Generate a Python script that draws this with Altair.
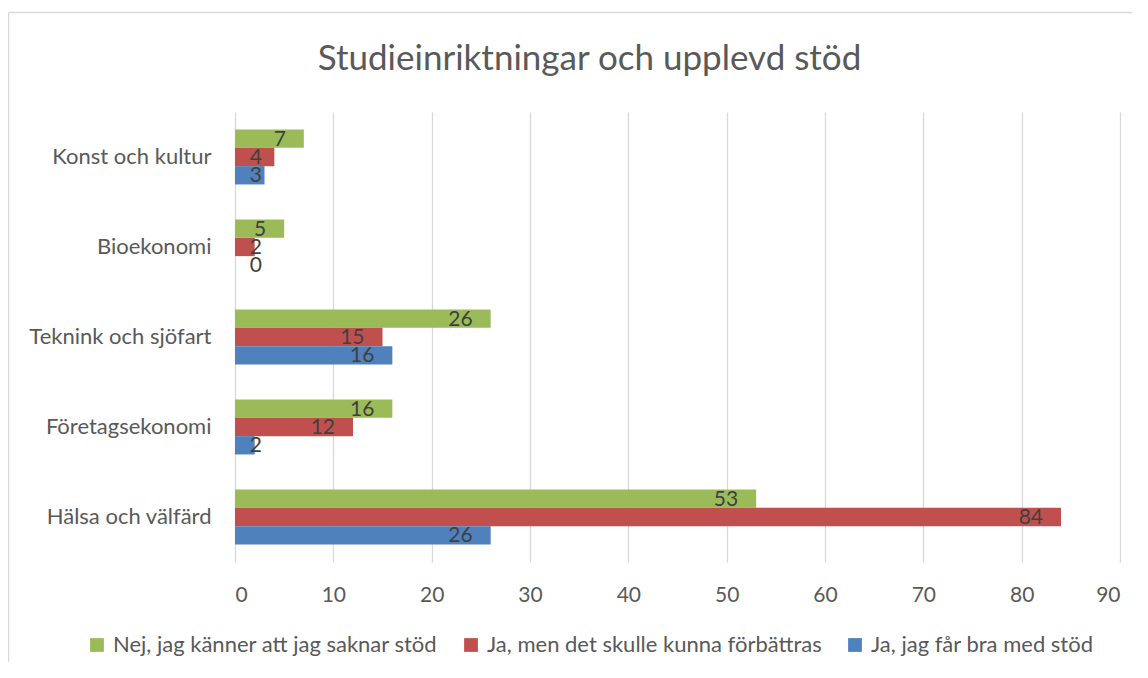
import altair as alt
import pandas as pd

categories = ["Konst och kultur", "Bioekonomi", "Teknink och sjöfart", "Företagsekonomi", "Hälsa och välfärd"]
series = ["Nej, jag känner att jag saknar stöd", "Ja, men det skulle kunna förbättras", "Ja, jag får bra med stöd"]
nej = [7, 5, 26, 16, 53]
ja_men = [4, 2, 15, 12, 84]
ja_bra = [3, 0, 16, 2, 26]
colors = ["#9BBB59", "#C0504D", "#4F81BD"]
x_ticks = [0, 10, 20, 30, 40, 50, 60, 70, 80, 90]

rows = []
for i, c in enumerate(categories):
    for s, vals in zip(series, [nej, ja_men, ja_bra]):
        rows.append({"kategori": c, "serie": s, "antal": vals[i]})
df = pd.DataFrame(rows)

FONT = "Lato"
TXT = "#595959"

y_enc = alt.Y("kategori:N", sort=categories, title=None,
              scale=alt.Scale(paddingInner=0.39, paddingOuter=0.195),
              axis=alt.Axis(domain=False, ticks=False, labelPadding=24, labelFontSize=22,
                            labelColor=TXT, labelFont=FONT, grid=False, labelLimit=400))
yoff = alt.YOffset("serie:N", sort=series, scale=alt.Scale(paddingInner=0, paddingOuter=0))

base = alt.Chart(df)

bars = base.mark_bar().encode(
    x=alt.X("antal:Q", title=None, scale=alt.Scale(domain=[0, 90], nice=False),
            axis=alt.Axis(values=x_ticks, grid=True, gridColor="#D9D9D9", gridWidth=1.3,
                          domain=False, ticks=False, labelPadding=22, labelFontSize=21,
                          labelColor=TXT, labelFont=FONT)),
    y=y_enc,
    yOffset=yoff,
    color=alt.Color("serie:N", sort=series,
                    scale=alt.Scale(domain=series, range=colors),
                    legend=alt.Legend(title=None, orient="none", legendX=-149, legendY=522,
                                      direction="horizontal", symbolType="square",
                                      symbolSize=190, symbolStrokeWidth=0, labelFontSize=22,
                                      labelFont=FONT, labelColor=TXT, labelOffset=5,
                                      columnPadding=22, labelLimit=500)),
)

labels = base.transform_calculate(pos="max(datum.antal - 1.83, 2.75)").mark_text(
    align="right", baseline="middle", font=FONT, fontSize=21, color="#404040", dy=1
).encode(
    x=alt.X("pos:Q"),
    y=alt.Y("kategori:N", sort=categories),
    yOffset=yoff,
    text="antal:Q",
)

frame_df = pd.DataFrame({"k": [0]})
frame_left = alt.Chart(frame_df).mark_rule(color="#D9D9D9", strokeWidth=1.5).encode(
    x=alt.value(-226.5), y=alt.value(-99.5), y2=alt.value(700))
frame_top = alt.Chart(frame_df).mark_rule(color="#D9D9D9", strokeWidth=1.5).encode(
    x=alt.value(-226.5), x2=alt.value(1000), y=alt.value(-99.5))

chart = alt.layer(frame_left, frame_top, bars, labels).properties(
    width=885, height=450,
    title=alt.TitleParams("Studieinriktningar och upplevd stöd", fontSize=35, font=FONT,
                          fontWeight="normal", color=TXT, anchor="middle", dx=-88, dy=133.5,
                          baseline="alphabetic", offset=40),
    autosize=alt.AutoSizeParams(type="none"),
    padding={"left": 227, "top": 104, "right": 12, "bottom": 100},
).configure_view(stroke=None)

chart.save("out.html", embed_options={"renderer": "svg", "actions": False})
